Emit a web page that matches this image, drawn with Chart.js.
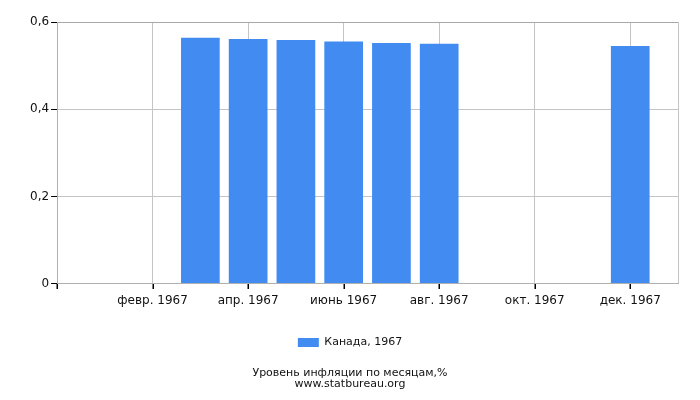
<!DOCTYPE html>
<html>
<head>
<meta charset="utf-8">
<script src="https://cdn.jsdelivr.net/npm/chart.js@4/dist/chart.umd.min.js"></script>
<style>
  html, body { margin: 0; padding: 0; background: #fff; }
  #wrap { width: 700px; height: 400px; }
</style>
</head>
<body>
<div id="wrap"><canvas id="c"></canvas></div>
<script>
const months = ['янв.', 'февр.', 'март', 'апр.', 'май', 'июнь', 'июль', 'авг.', 'сент.', 'окт.', 'нояб.', 'дек.'];
const year = '1967';
const seriesLabel = 'Канада, 1967';
const values = [null, null, 0.564, 0.561, 0.559, 0.555, 0.552, 0.550, null, null, null, 0.545];
const xTickMonths = [2, 4, 6, 8, 10, 12];
const yTicks = [0, 0.2, 0.4, 0.6];
const titleLines = ['Уровень инфляции по месяцам,%', 'www.statbureau.org'];

const points = values.map((v, i) => ({ x: i + 1, y: v })).filter(p => p.y !== null);
const FONT = '"DejaVu Sans", Verdana, sans-serif';

// draws the short black tick marks under the x axis at the labelled months
const xTickMarks = {
  id: 'xTickMarks',
  afterDraw(chart) {
    const sx = chart.scales.x, ctx = chart.ctx;
    const y0 = Math.round(chart.chartArea.bottom);
    ctx.save();
    ctx.fillStyle = '#000';
    [0].concat(xTickMonths).forEach(m => {
      const px = Math.round(sx.getPixelForValue(m));
      ctx.fillRect(px - 0.5, y0, 1.5, 5);
    });
    ctx.restore();
  }
};

new Chart(document.getElementById('c'), {
  type: 'bar',
  data: {
    datasets: [{
      label: seriesLabel,
      data: points,
      backgroundColor: '#428bf0',
      borderWidth: 0,
      barPercentage: 0.81,
      categoryPercentage: 1.0
    }]
  },
  options: {
    responsive: true,
    maintainAspectRatio: false,
    animation: false,
    layout: { padding: { left: 22, right: 22, top: 22, bottom: 10 } },
    scales: {
      x: {
        type: 'linear',
        offset: false,
        min: 0,
        max: months.length + 1,
        afterBuildTicks: (scale) => {
          scale.ticks = [0].concat(xTickMonths, [months.length + 1]).map(v => ({ value: v }));
        },
        afterFit: (scale) => { scale.height += 5; },
        ticks: {
          autoSkip: false,
          maxRotation: 0,
          color: '#111',
          font: { family: FONT, size: 12 },
          padding: 5,
          callback: (v) => (v >= 1 && v <= months.length) ? months[v - 1] + ' ' + year : ''
        },
        grid: {
          offset: false,
          color: '#c4c4c4',
          drawTicks: true,
          tickColor: 'rgba(0,0,0,0)',
          tickLength: 5,
          lineWidth: 1
        },
        border: { color: '#b0b0b0' }
      },
      y: {
        min: 0,
        max: 0.6,
        afterBuildTicks: (scale) => { scale.ticks = yTicks.map(v => ({ value: v })); },
        afterFit: (scale) => { scale.width += 6; },
        ticks: {
          color: '#111',
          font: { family: FONT, size: 12 },
          padding: 2,
          callback: (v) => String(Math.round(v * 10) / 10).replace('.', ',')
        },
        grid: {
          color: (ctx) => (ctx.tick && ctx.tick.value === 0.6) ? '#a8a8a8' : '#c4c4c4',
          tickColor: '#000',
          tickLength: 6
        },
        border: { color: '#b0b0b0' }
      }
    },
    plugins: {
      legend: {
        position: 'bottom',
        labels: {
          boxWidth: 21,
          boxHeight: 9,
          color: '#111',
          font: { family: FONT, size: 11 },
          padding: 19
        }
      },
      title: {
        display: true,
        position: 'bottom',
        text: titleLines,
        color: '#111',
        font: { family: FONT, size: 11, weight: 'normal', lineHeight: 1.0 },
        padding: { top: 10, bottom: 0 }
      },
      tooltip: { enabled: false }
    }
  },
  plugins: [xTickMarks]
});
</script>
</body>
</html>
